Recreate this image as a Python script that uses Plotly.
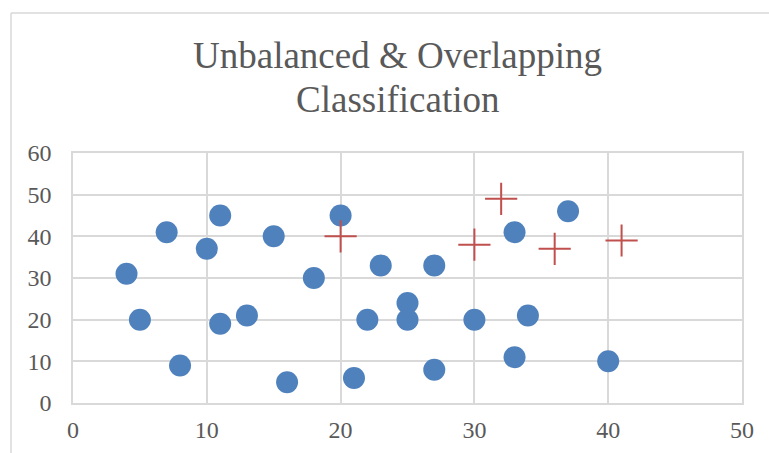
import plotly.graph_objects as go

# Majority class (blue circles)
class_a_x = [4, 5, 7, 8, 10, 11, 11, 13, 15, 16, 18, 20, 21, 22, 23, 25, 25, 27, 27, 30, 33, 33, 34, 37, 40]
class_a_y = [31, 20, 41, 9, 37, 45, 19, 21, 40, 5, 30, 45, 6, 20, 33, 24, 20, 33, 8, 20, 41, 11, 21, 46, 10]

# Minority class (red crosses)
class_b_x = [20, 30, 32, 36, 41]
class_b_y = [40, 38, 49, 37, 39]

title_lines = ["Unbalanced & Overlapping", "Classification"]
x_ticks = [0, 10, 20, 30, 40, 50]
y_ticks = [0, 10, 20, 30, 40, 50, 60]

W, H = 769, 453
ml, mr, mt, mb = 73, 27, 153, 50
pw = W - ml - mr
ph = H - mt - mb

fig = go.Figure()
fig.add_trace(go.Scatter(
    x=class_a_x, y=class_a_y, mode="markers",
    marker=dict(symbol="circle", size=22, color="#4F81BD", line=dict(width=0)),
    hoverinfo="skip", showlegend=False, cliponaxis=False,
))
fig.add_trace(go.Scatter(
    x=class_b_x, y=class_b_y, mode="markers",
    marker=dict(symbol="cross-thin", size=23, color="#C0504D",
                line=dict(width=2, color="#C0504D")),
    hoverinfo="skip", showlegend=False, cliponaxis=False,
))

grid = "#D9D9D9"
font_family = "Liberation Serif, Times New Roman, serif"
text_col = "#595959"

fig.update_layout(
    width=W, height=H,
    margin=dict(l=ml, r=mr, t=mt, b=mb, autoexpand=False),
    paper_bgcolor="white", plot_bgcolor="white",
    xaxis=dict(range=[0, 50], tickvals=x_ticks, showgrid=True, gridcolor=grid,
               gridwidth=1.5, showline=True, linecolor=grid, linewidth=1.5,
               mirror=True, zeroline=False, ticks="outside", ticklen=4,
               tickcolor="rgba(0,0,0,0)", automargin=False,
               tickfont=dict(family=font_family, size=24, color=text_col)),
    yaxis=dict(range=[0, 60], tickvals=y_ticks, showgrid=True, gridcolor=grid,
               gridwidth=1.5, showline=True, linecolor=grid, linewidth=1.5,
               mirror=True, zeroline=False, ticks="outside", ticklen=15,
               tickcolor="rgba(0,0,0,0)", automargin=False,
               tickfont=dict(family=font_family, size=24, color=text_col)),
)

# title as two lines with Excel-like line spacing
line_centers_px = [55, 99]
for txt, cy in zip(title_lines, line_centers_px):
    fig.add_annotation(text=txt, xref="paper", yref="paper",
                       x=0.5 + (397 - (ml + pw / 2)) / pw, xanchor="center",
                       y=(H - mb - cy) / ph, yanchor="middle", showarrow=False,
                       font=dict(family=font_family, size=37, color=text_col))

# outer chart-area border (left and top edges visible in the crop)
bx = (11 - ml) / pw
by = (H - mb - 13) / ph
fig.add_shape(type="line", xref="paper", yref="paper", x0=bx, x1=bx, y0=-1, y1=by,
              line=dict(color=grid, width=1.5))
fig.add_shape(type="line", xref="paper", yref="paper", x0=bx, x1=2, y0=by, y1=by,
              line=dict(color=grid, width=1.5))

fig.write_html("out.html")
